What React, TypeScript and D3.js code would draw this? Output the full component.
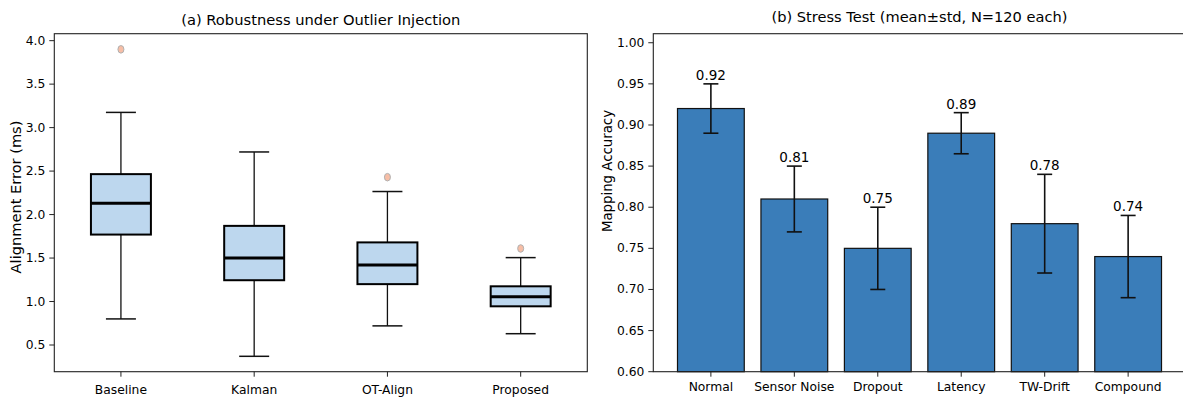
import React from 'react';
import * as d3 from 'd3';

// (a) box plot statistics
const boxCategories = ['Baseline', 'Kalman', 'OT-Align', 'Proposed'];
const whiskerLow = [0.8, 0.37, 0.72, 0.63];
const q1 = [1.77, 1.245, 1.2, 0.945];
const medians = [2.13, 1.5, 1.42, 1.055];
const q3 = [2.465, 1.87, 1.68, 1.175];
const whiskerHigh = [3.175, 2.72, 2.265, 1.505];
const outliers = [[3.9], [], [2.43], [1.61]];
const leftTicks = [0.5, 1.0, 1.5, 2.0, 2.5, 3.0, 3.5, 4.0];

// (b) stress test bars
const stressCategories = ['Normal', 'Sensor Noise', 'Dropout', 'Latency', 'TW-Drift', 'Compound'];
const stressMean = [0.92, 0.81, 0.75, 0.89, 0.78, 0.74];
const stressStd = [0.03, 0.04, 0.05, 0.025, 0.06, 0.05];
const rightTicks = [0.6, 0.65, 0.7, 0.75, 0.8, 0.85, 0.9, 0.95, 1.0];

const W = 1183;
const H = 398;
const FONT = '"DejaVu Sans", sans-serif';
const TOP = 33.7;
const BOTTOM = 371.7;

export default function App() {
  // left axes
  const xL = d3.scaleLinear().domain([0.5, 4.5]).range([54.3, 587.3]);
  const yL = d3.scaleLinear().domain([0.193, 4.08]).range([BOTTOM, TOP]);
  const boxW = 0.45;

  // right axes (right edge runs past the picture)
  const xR = d3.scaleLinear().domain([-0.69, 5.69]).range([653.3, 653.3 + 6.38 * 83.45]);
  const yR = d3.scaleLinear().domain([0.6, 1.011]).range([BOTTOM, TOP]);
  const barW = 0.8;

  return (
    <svg width={W} height={H} style={{ position: 'absolute', left: 0, top: 0, background: '#fff' }} fontFamily={FONT}>
      {/* ---------- (a) ---------- */}
      <text x={(xL.range()[0] + xL.range()[1]) / 2} y={25} textAnchor="middle" fontSize={14.7} fill="#000">
        (a) Robustness under Outlier Injection
      </text>
      <text transform={`translate(15,197) rotate(-90)`} textAnchor="middle" dominantBaseline="central" fontSize={14.6} fill="#000">
        Alignment Error (ms)
      </text>

      {boxCategories.map((c, i) => {
        const cx = xL(i + 1);
        const x0 = xL(i + 1 - boxW / 2);
        const x1 = xL(i + 1 + boxW / 2);
        const c0 = xL(i + 1 - boxW / 4);
        const c1 = xL(i + 1 + boxW / 4);
        return (
          <g key={c}>
            <line x1={cx} x2={cx} y1={yL(q1[i])} y2={yL(whiskerLow[i])} stroke="#111" strokeWidth={1.3} />
            <line x1={cx} x2={cx} y1={yL(q3[i])} y2={yL(whiskerHigh[i])} stroke="#111" strokeWidth={1.3} />
            <line x1={c0} x2={c1} y1={yL(whiskerLow[i])} y2={yL(whiskerLow[i])} stroke="#111" strokeWidth={1.5} />
            <line x1={c0} x2={c1} y1={yL(whiskerHigh[i])} y2={yL(whiskerHigh[i])} stroke="#111" strokeWidth={1.5} />
            <rect x={x0} y={yL(q3[i])} width={x1 - x0} height={yL(q1[i]) - yL(q3[i])} fill="#bdd7ee" stroke="#000" strokeWidth={2} />
            <line x1={x0} x2={x1} y1={yL(medians[i])} y2={yL(medians[i])} stroke="#000" strokeWidth={3} />
            {outliers[i].map((v, j) => (
              <ellipse key={j} cx={cx} cy={yL(v)} rx={3} ry={3.8} fill="#f7bea6" stroke="#b0b0b0" strokeWidth={1} />
            ))}
          </g>
        );
      })}

      {/* left axes frame + ticks */}
      <rect x={xL.range()[0]} y={TOP} width={xL.range()[1] - xL.range()[0]} height={BOTTOM - TOP} fill="none" stroke="#222" strokeWidth={1.1} />
      {leftTicks.map(t => (
        <g key={t}>
          <line x1={xL.range()[0] - 5} x2={xL.range()[0]} y1={yL(t)} y2={yL(t)} stroke="#222" strokeWidth={1} />
          <text x={xL.range()[0] - 9} y={yL(t)} textAnchor="end" dominantBaseline="central" fontSize={12.3} fill="#000">
            {t.toFixed(1)}
          </text>
        </g>
      ))}
      {boxCategories.map((c, i) => (
        <g key={c}>
          <line x1={xL(i + 1)} x2={xL(i + 1)} y1={BOTTOM} y2={BOTTOM + 5} stroke="#222" strokeWidth={1} />
          <text x={xL(i + 1)} y={394} textAnchor="middle" fontSize={12.3} fill="#000">{c}</text>
        </g>
      ))}

      {/* ---------- (b) ---------- */}
      <text x={(xR.range()[0] + xR.range()[1]) / 2} y={22} textAnchor="middle" fontSize={14.6} fill="#000">
        (b) Stress Test (mean±std, N=120 each)
      </text>
      <text transform={`translate(607,171) rotate(-90)`} textAnchor="middle" dominantBaseline="central" fontSize={13.3} fill="#000">
        Mapping Accuracy
      </text>

      {stressCategories.map((c, i) => {
        const x0 = xR(i - barW / 2);
        const x1 = xR(i + barW / 2);
        const cx = xR(i);
        const hi = stressMean[i] + stressStd[i];
        const lo = stressMean[i] - stressStd[i];
        return (
          <g key={c}>
            <rect x={x0} y={yR(stressMean[i])} width={x1 - x0} height={yR(0.6) - yR(stressMean[i])} fill="#3a7db9" stroke="#111" strokeWidth={1.2} />
            <line x1={cx} x2={cx} y1={yR(hi)} y2={yR(lo)} stroke="#111" strokeWidth={1.6} />
            <line x1={cx - 7.5} x2={cx + 7.5} y1={yR(hi)} y2={yR(hi)} stroke="#111" strokeWidth={1.6} />
            <line x1={cx - 7.5} x2={cx + 7.5} y1={yR(lo)} y2={yR(lo)} stroke="#111" strokeWidth={1.6} />
            <text x={cx} y={yR(hi) - 4} textAnchor="middle" fontSize={13.5} fill="#000">
              {stressMean[i].toFixed(2)}
            </text>
          </g>
        );
      })}

      <rect x={xR.range()[0]} y={TOP} width={xR.range()[1] - xR.range()[0]} height={BOTTOM - TOP} fill="none" stroke="#222" strokeWidth={1.1} />
      {rightTicks.map(t => (
        <g key={t}>
          <line x1={xR.range()[0] - 5} x2={xR.range()[0]} y1={yR(t)} y2={yR(t)} stroke="#222" strokeWidth={1} />
          <text x={xR.range()[0] - 9} y={yR(t)} textAnchor="end" dominantBaseline="central" fontSize={12.3} fill="#000">
            {t.toFixed(2)}
          </text>
        </g>
      ))}
      {stressCategories.map((c, i) => (
        <g key={c}>
          <line x1={xR(i)} x2={xR(i)} y1={BOTTOM} y2={BOTTOM + 5} stroke="#222" strokeWidth={1} />
          <text x={xR(i)} y={391} textAnchor="middle" fontSize={12.3} fill="#000">{c}</text>
        </g>
      ))}
    </svg>
  );
}
